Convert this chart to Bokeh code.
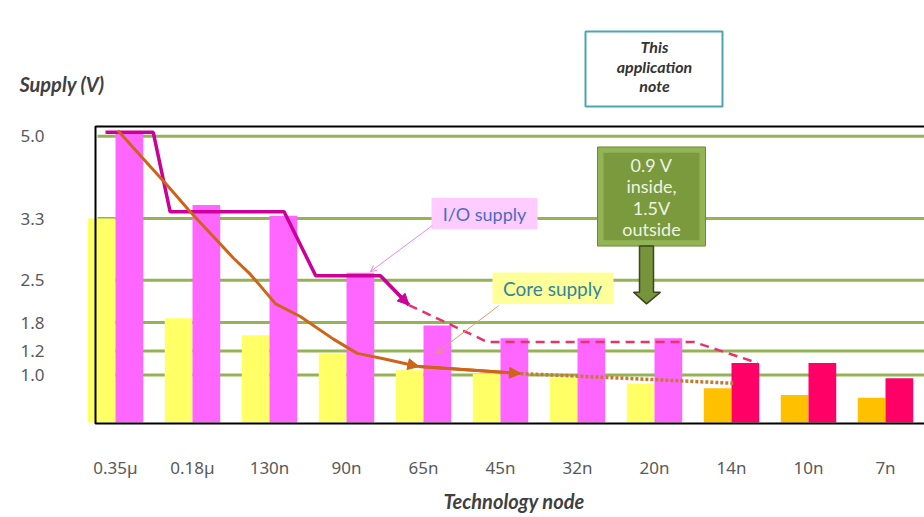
import numpy as np
from bokeh.plotting import figure
from bokeh.layouts import column
from bokeh.models import Range1d, FixedTicker, Title, Arrow, NormalHead, OpenHead
from bokeh.core.properties import value
from bokeh.embed import file_html
from bokeh.resources import INLINE

# ---------------- data ----------------
NODES = ["0.35µ", "0.18µ", "130n", "90n", "65n", "45n", "32n", "20n", "14n", "10n", "7n"]
CORE_V = [3.3, 1.87, 1.53, 1.18, 1.04, 1.01, 0.95, 0.82, 0.72, 0.58, 0.52]
IO_V = [5.06, 3.58, 3.36, 2.60, 1.74, 1.47, 1.47, 1.47, 1.10, 1.10, 0.93]
NEW_ERA_FROM = 8  # nodes from 14n on are drawn in the darker colours

Y_TICKS = [1.0, 1.2, 1.8, 2.5, 3.3, 5.0]
Y_TICK_LABELS = ["1.0", "1.2", "1.8", "2.5", "3.3", "5.0"]

# trend lines (x in node index units, y in volts)
IO_TREND_X = [-0.13, 0.49, 0.71, 2.19, 2.60, 3.44, 3.81]
IO_TREND_V = [5.08, 5.08, 3.44, 3.44, 2.56, 2.56, 2.09]
IO_PROJ_X = [3.81, 4.83, 7.51, 8.34]
IO_PROJ_V = [2.09, 1.39, 1.39, 1.10]
CORE_TREND_X = [0.03, 0.68, 0.97, 1.53, 1.75, 2.08, 2.40, 2.83, 3.14, 3.48, 3.83, 3.94]
CORE_TREND_V = [5.12, 3.97, 3.44, 2.79, 2.58, 2.11, 1.90, 1.45, 1.18, 1.135, 1.086, 1.07]
CORE_NEXT_X = [3.94, 5.26]
CORE_NEXT_V = [1.07, 1.012]
CORE_PROJ_X = [5.26, 8.05]
CORE_PROJ_V = [1.012, 0.825]

# the slide's non-linear voltage axis: volts -> axis units
AXIS_V = [0.0, 1.0, 1.2, 1.8, 2.5, 3.3, 5.0, 6.0]
AXIS_POS = [0.0, 48.5, 73.0, 102.0, 145.0, 208.0, 292.0, 341.0]


def ax(v):
    return np.interp(np.asarray(v, dtype=float), AXIS_V, AXIS_POS)


# helpers for annotation placement (pixel-like layout units)
def xi(px):
    return (px - 115.0) / 77.0


def yd(py):
    return 428.0 - py


FONT = "Lato"
TICK_FONT = "Noto Sans"
TITLE_C = "#404040"
idx = np.arange(len(NODES))

# ---------------- header strip: y-axis title and note box ----------------
top = figure(width=924, height=120, x_range=Range1d(84, 924), y_range=Range1d(120, 0),
             x_axis_type=None, output_backend="svg", toolbar_location=None,
             min_border_left=84, min_border_right=0, min_border_top=0, min_border_bottom=0,
             outline_line_color=None)
top.xgrid.visible = False
top.ygrid.visible = False
top.yaxis.ticker = FixedTicker(ticks=[83])
top.yaxis.major_label_overrides = {83: "Supply (V)"}
top.yaxis.axis_line_color = None
top.yaxis.major_tick_line_color = None
top.yaxis.minor_tick_line_color = None
top.yaxis.major_label_text_font = FONT
top.yaxis.major_label_text_font_style = "bold italic"
top.yaxis.major_label_text_font_size = "20px"
top.yaxis.major_label_text_color = TITLE_C
top.yaxis.major_label_standoff = -26

top.quad(left=[585], right=[722], top=[31], bottom=[106],
         fill_color="white", line_color="#4BA5B0", line_width=2)
top.text(x=[654] * 3, y=[46, 66, 85], text=["This", "application", "note"],
         text_font=value(FONT), text_font_size=value("16px"), text_font_style="bold italic",
         text_color="#333333", text_align="center", text_baseline="middle")

# ---------------- main chart ----------------
p = figure(width=924, height=397,
           x_range=Range1d(xi(84), xi(924)), y_range=Range1d(yd(432), yd(120)),
           output_backend="svg", toolbar_location=None,
           min_border_left=84, min_border_right=0, min_border_top=0, min_border_bottom=85,
           outline_line_color=None, background_fill_color="white", border_fill_color="white")
p.xgrid.visible = False
p.ygrid.visible = False

y_pos = [float(v) for v in ax(Y_TICKS)]
p.yaxis.ticker = FixedTicker(ticks=y_pos)
p.yaxis.major_label_overrides = {pos: lab for pos, lab in zip(y_pos, Y_TICK_LABELS)}
p.xaxis.ticker = FixedTicker(ticks=[int(i) for i in idx])
p.xaxis.major_label_overrides = {int(i): n for i, n in zip(idx, NODES)}
for a in (p.xaxis, p.yaxis):
    a.axis_line_color = None
    a.major_tick_line_color = None
    a.minor_tick_line_color = None
    a.major_label_text_font = TICK_FONT
    a.major_label_text_font_size = "17px"
    a.major_label_text_color = "#595959"
p.yaxis.major_label_standoff = 34
p.xaxis.major_label_standoff = 23

p.add_layout(Title(text="Technology node", align="left", offset=359, standoff=10,
                   text_font=FONT, text_font_style="bold italic", text_font_size="20px",
                   text_color=TITLE_C), "below")

# gridlines (behind the bars, inside the black frame)
p.segment(x0=[xi(97)] * len(y_pos), x1=[11.0] * len(y_pos), y0=y_pos, y1=y_pos,
          line_color="#93B354", line_width=3)

# bars
core_colors = ["#FFFF66" if i < NEW_ERA_FROM else "#FFC000" for i in idx]
io_colors = ["#FF66FF" if i < NEW_ERA_FROM else "#FF0066" for i in idx]
p.vbar(x=idx - 0.18, top=ax(CORE_V), bottom=0, width=0.36, fill_color=core_colors, line_color=None)
p.vbar(x=idx + 0.18, top=ax(IO_V), bottom=0, width=0.36, fill_color=io_colors, line_color=None)

# black frame of the chart area
p.quad(left=[xi(95)], right=[11.0], top=[yd(126)], bottom=[yd(429)],
       fill_color=None, line_color="black", line_width=2)

# trend lines
IO_C = "#CC0099"
IO_P = "#E5336B"
CORE_C = "#CD6418"
p.line(IO_TREND_X, ax(IO_TREND_V), line_color=IO_C, line_width=3.5)
p.line(IO_PROJ_X, ax(IO_PROJ_V), line_color=IO_P, line_width=2.5, line_dash="9 6")
p.line(CORE_TREND_X, ax(CORE_TREND_V), line_color=CORE_C, line_width=3)
p.line(CORE_NEXT_X, ax(CORE_NEXT_V), line_color=CORE_C, line_width=3)
p.line(CORE_PROJ_X, ax(CORE_PROJ_V), line_color="#C27A30", line_width=3.5, line_dash="3 2")

p.add_layout(Arrow(end=NormalHead(size=11, fill_color=IO_C, line_color=IO_C),
                   x_start=IO_TREND_X[-2], y_start=float(ax(IO_TREND_V[-2])),
                   x_end=IO_TREND_X[-1], y_end=float(ax(IO_TREND_V[-1])),
                   line_color=IO_C, line_width=3))
p.add_layout(Arrow(end=NormalHead(size=11, fill_color=CORE_C, line_color=CORE_C),
                   x_start=CORE_TREND_X[-2], y_start=float(ax(CORE_TREND_V[-2])),
                   x_end=CORE_TREND_X[-1], y_end=float(ax(CORE_TREND_V[-1])),
                   line_color=CORE_C, line_width=3))
p.add_layout(Arrow(end=NormalHead(size=11, fill_color=CORE_C, line_color=CORE_C),
                   x_start=CORE_NEXT_X[0], y_start=float(ax(CORE_NEXT_V[0])),
                   x_end=CORE_NEXT_X[1], y_end=float(ax(CORE_NEXT_V[1])),
                   line_color=CORE_C, line_width=3))

# leader lines of the callouts
p.add_layout(Arrow(end=OpenHead(size=6, line_color="#E58AE5", line_width=1),
                   x_start=xi(432), y_start=yd(227), x_end=xi(370), y_end=yd(274),
                   line_color="#E58AE5", line_width=1))
p.add_layout(Arrow(end=OpenHead(size=6, line_color="#D9A066", line_width=1),
                   x_start=xi(498), y_start=yd(309), x_end=xi(436), y_end=yd(357),
                   line_color="#D9A066", line_width=1))

# callout: I/O supply
p.quad(left=[xi(431)], right=[xi(537)], top=[yd(199)], bottom=[yd(231)],
       fill_color="#FFCCFF", line_color=None)
p.text(x=[xi(484)], y=[yd(215)], text=["I/O supply"], text_font=value(FONT),
       text_font_size=value("18px"), text_color="#4A6CC4",
       text_align="center", text_baseline="middle")

# callout: Core supply
p.quad(left=[xi(492)], right=[xi(613)], top=[yd(275)], bottom=[yd(307)],
       fill_color="#FFFF99", line_color=None)
p.text(x=[xi(552)], y=[yd(291)], text=["Core supply"], text_font=value(FONT),
       text_font_size=value("19px"), text_color="#31859C",
       text_align="center", text_baseline="middle")

# green callout with arrow
p.quad(left=[xi(597)], right=[xi(705)], top=[yd(147)], bottom=[yd(248)],
       fill_color="#93B454", line_color="#6E8A35", line_width=1)
p.quad(left=[xi(603)], right=[xi(699)], top=[yd(153)], bottom=[yd(242)],
       fill_color="#7A9A3D", line_color=None)
GREEN_LINES = ["0.9 V", "inside,", "1.5V", "outside"]
p.text(x=[xi(651)] * 4, y=[yd(165), yd(187), yd(209), yd(231)], text=GREEN_LINES,
       text_font=value(FONT), text_font_size=value("18px"), text_color="#EEF3E2",
       text_align="center", text_baseline="middle")
p.patch(x=[xi(639), xi(653), xi(653), xi(660), xi(646), xi(633), xi(639)],
        y=[yd(248), yd(248), yd(295), yd(295), yd(307), yd(295), yd(295)],
        fill_color="#77933C", line_color="#3B4A1E", line_width=1.5)

layout = column(top, p, spacing=0)
open("out.html", "w").write(file_html(layout, INLINE))
